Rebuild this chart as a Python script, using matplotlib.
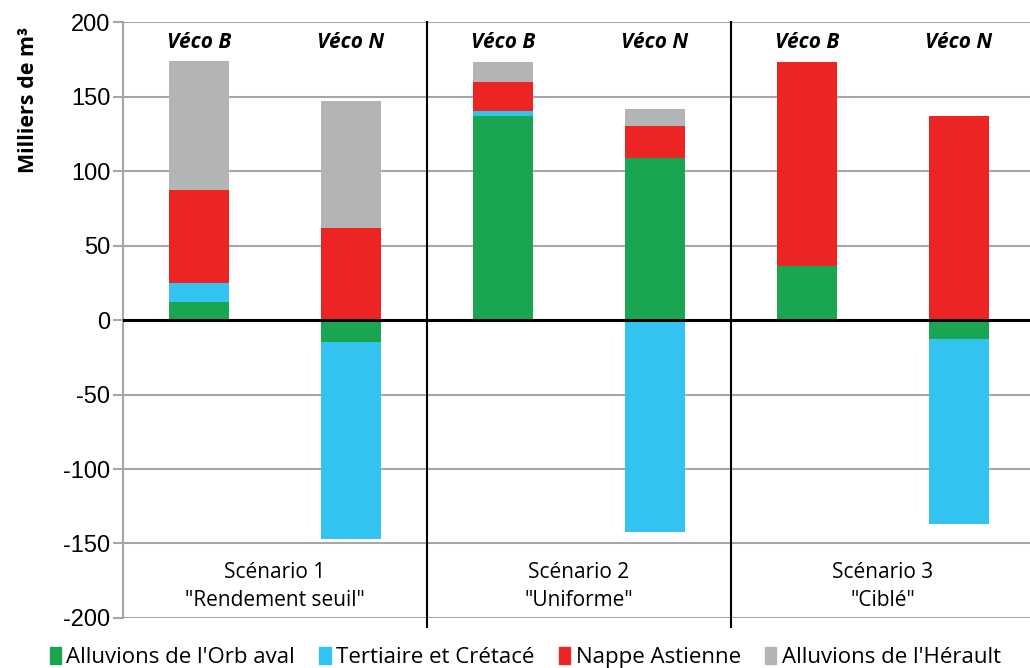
import numpy as np
import matplotlib
matplotlib.use('Agg')
import matplotlib.pyplot as plt
from matplotlib.patches import Patch

plt.rcParams['font.family'] = ['Open Sans', 'DejaVu Sans']

bar_labels = ['Véco B', 'Véco N', 'Véco B', 'Véco N', 'Véco B', 'Véco N']
scenarios = ['Scénario 1\n"Rendement seuil"', 'Scénario 2\n"Uniforme"', 'Scénario 3\n"Ciblé"']

series_names = ["Alluvions de l'Orb aval", 'Tertiaire et Crétacé',
                'Nappe Astienne', "Alluvions de l'Hérault"]
orb_aval = [12, -15, 137, 109, 36, -13]
tertiaire = [13, -132, 3, -142, 0, -124]
astienne = [62, 62, 20, 21, 137, 137]
herault = [87, 85, 13, 12, 0, 0]

colors = ['#1aa651', '#33c3f0', '#ed2424', '#b2b4b5']

fig = plt.figure(figsize=(10.3, 6.68), dpi=100)
ax = fig.add_axes([0.1194, 0.0749, 0.8854, 0.892])

x = np.arange(len(bar_labels))
pos_base = np.zeros(len(x))
neg_base = np.zeros(len(x))
for vals, col in zip([orb_aval, tertiaire, astienne, herault], colors):
    vals = np.array(vals, dtype=float)
    bottoms = np.where(vals >= 0, pos_base, neg_base)
    ax.bar(x, vals, width=0.4, bottom=bottoms, color=col, edgecolor='none', zorder=3)
    pos_base += np.clip(vals, 0, None)
    neg_base += np.clip(vals, None, 0)

ax.set_xlim(-0.5, 5.5)
ax.set_ylim(-200, 200)
ax.set_yticks(np.arange(-200, 201, 50))
ax.set_yticklabels([str(v) for v in range(-200, 201, 50)], fontsize=17, family='Liberation Sans')
ax.set_xticks([])
ax.grid(axis='y', color='#a6a6a6', linewidth=1.5, zorder=0)
ax.tick_params(axis='y', length=7, width=1.5, color='#a6a6a6', pad=2)
for s in ['top', 'right', 'bottom']:
    ax.spines[s].set_visible(False)
ax.spines['left'].set_color('#a6a6a6')
ax.spines['left'].set_linewidth(1.5)

ax.axhline(0, color='black', linewidth=2.2, zorder=4)
for xs in [1.5, 3.5]:
    ax.axvline(xs, ymin=-0.015, ymax=1, color='black', linewidth=1.5, clip_on=False, zorder=4)

for xi, lab in zip(x, bar_labels):
    ax.text(xi, 186, lab, ha='center', va='center', fontsize=15,
            fontweight='bold', fontstyle='italic', zorder=5)

for i, sc in enumerate(scenarios):
    ax.text(2 * i + 0.5, -179, sc, ha='center', va='center', fontsize=15,
            linespacing=1.4, zorder=5)

ax.set_ylabel('Milliers de m³', fontsize=15.5, fontweight='bold')
ax.yaxis.set_label_coords(-0.092, 0.87)

handles = [Patch(color=c, label=n) for c, n in zip(colors, series_names)]
fig.legend(handles=handles, loc='lower center', bbox_to_anchor=(0.51, -0.03), ncol=4,
           frameon=False, fontsize=16, handlelength=0.5, handleheight=0.8,
           handletextpad=0.25, columnspacing=1.1)

fig.savefig('out.png', dpi=100)
